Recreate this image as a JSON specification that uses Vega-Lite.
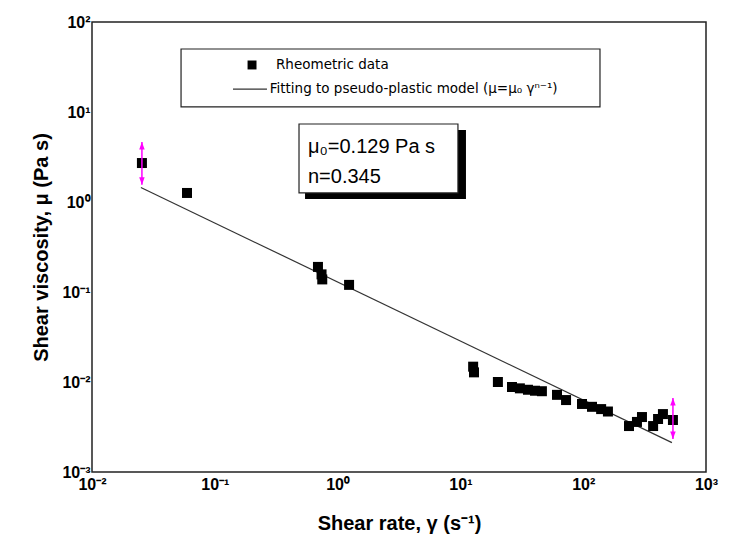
{
  "$schema": "https://vega.github.io/schema/vega-lite/v6.json",
  "width": 614,
  "height": 450,
  "autosize": {"type": "none"},
  "padding": {"left": 92, "top": 22, "right": 29, "bottom": 67},
  "background": "white",
  "config": {
    "view": {"stroke": "#222", "strokeWidth": 1.5},
    "font": "Liberation Sans",
    "axis": {
      "domain": false,
      "ticks": false,
      "grid": false,
      "labelFont": "Liberation Sans",
      "labelFontWeight": "bold",
      "labelFontSize": 16,
      "labelColor": "#000",
      "labelOverlap": false,
      "labelFlush": false,
      "titleFont": "Liberation Sans",
      "titleFontWeight": "bold",
      "titleFontSize": 20,
      "titleColor": "#000"
    }
  },
  "datasets": {
    "points": [
      {"rate": 0.0255, "visc": 2.71},
      {"rate": 0.0594, "visc": 1.26},
      {"rate": 0.692, "visc": 0.19},
      {"rate": 0.74, "visc": 0.157},
      {"rate": 0.75, "visc": 0.138},
      {"rate": 1.24, "visc": 0.12},
      {"rate": 12.7, "visc": 0.0148},
      {"rate": 12.9, "visc": 0.0128},
      {"rate": 20.2, "visc": 0.0100},
      {"rate": 26.3, "visc": 0.0088},
      {"rate": 30.5, "visc": 0.0085},
      {"rate": 35.5, "visc": 0.0082},
      {"rate": 40.5, "visc": 0.0080},
      {"rate": 46.1, "visc": 0.0079},
      {"rate": 61.2, "visc": 0.0072},
      {"rate": 72.5, "visc": 0.0063},
      {"rate": 97.8, "visc": 0.0057},
      {"rate": 118, "visc": 0.0053},
      {"rate": 140, "visc": 0.0050},
      {"rate": 159, "visc": 0.0047},
      {"rate": 236, "visc": 0.00324},
      {"rate": 274, "visc": 0.0036},
      {"rate": 301, "visc": 0.00408},
      {"rate": 371, "visc": 0.00324},
      {"rate": 407, "visc": 0.00388},
      {"rate": 446, "visc": 0.0044},
      {"rate": 538, "visc": 0.00378}
    ],
    "fit": [
      {"rate": 0.025, "visc": 1.45},
      {"rate": 528, "visc": 0.00212}
    ],
    "errors": [
      {"rate": 0.0255, "lo": 1.55, "hi": 4.64},
      {"rate": 538, "lo": 0.00233, "hi": 0.00664}
    ]
  },
  "encoding": {
    "x": {
      "type": "quantitative",
      "scale": {"type": "log", "domain": [0.01, 1000], "nice": false},
      "axis": {
        "title": "Shear rate, γ (s⁻¹)",
        "values": [0.01, 0.1, 1, 10, 100, 1000],
        "labelExpr": "'10' + ['⁻³','⁻²','⁻¹','⁰','¹','²','³'][round(log(datum.value)/LN10)+3]",
        "labelPadding": 4,
        "titlePadding": 21
      }
    },
    "y": {
      "type": "quantitative",
      "scale": {"type": "log", "domain": [0.001, 100], "nice": false},
      "axis": {
        "title": "Shear viscosity, μ (Pa s)",
        "values": [0.001, 0.01, 0.1, 1, 10, 100],
        "labelExpr": "'10' + ['⁻³','⁻²','⁻¹','⁰','¹','²','³'][round(log(datum.value)/LN10)+3]",
        "labelPadding": 2,
        "titlePadding": 10
      }
    }
  },
  "layer": [
    {
      "data": {"values": [{}]},
      "mark": {"type": "rect", "fill": "white", "stroke": "#222", "strokeWidth": 1.2},
      "encoding": {
        "x": {"datum": 0.0531}, "x2": {"datum": 137},
        "y": {"datum": 50.1}, "y2": {"datum": 11.4}
      }
    },
    {
      "data": {"values": [{}]},
      "mark": {"type": "rect", "fill": "#000"},
      "encoding": {
        "x": {"datum": 0.543}, "x2": {"datum": 11.1},
        "y": {"datum": 6.3}, "y2": {"datum": 1.08}
      }
    },
    {
      "data": {"values": [{}]},
      "mark": {"type": "rect", "fill": "white", "stroke": "#222", "strokeWidth": 1.2},
      "encoding": {
        "x": {"datum": 0.485}, "x2": {"datum": 9.55},
        "y": {"datum": 7.36}, "y2": {"datum": 1.26}
      }
    },
    {
      "data": {"values": [{"label": "μ₀=0.129 Pa s", "lx": 0.574, "ly": 4.08}, {"label": "n=0.345", "lx": 0.574, "ly": 1.9}]},
      "mark": {"type": "text", "align": "left", "baseline": "middle", "fontSize": 20, "font": "Liberation Sans", "color": "#000"},
      "encoding": {
        "x": {"field": "lx", "type": "quantitative"},
        "y": {"field": "ly", "type": "quantitative"},
        "text": {"field": "label"}
      }
    },
    {
      "data": {"values": [{"label": "Rheometric data", "lx": 0.315, "ly": 33.3}, {"label": "Fitting to pseudo-plastic model (μ=μ₀ γⁿ⁻¹)", "lx": 0.28, "ly": 18.0}]},
      "mark": {"type": "text", "align": "left", "baseline": "middle", "fontSize": 13.5, "font": "DejaVu Sans", "color": "#000"},
      "encoding": {
        "x": {"field": "lx", "type": "quantitative"},
        "y": {"field": "ly", "type": "quantitative"},
        "text": {"field": "label"}
      }
    },
    {
      "data": {"values": [{}]},
      "mark": {"type": "point", "shape": "square", "filled": true, "color": "#000", "size": 80, "opacity": 1},
      "encoding": {"x": {"datum": 0.201}, "y": {"datum": 33.3}}
    },
    {
      "data": {"values": [{}]},
      "mark": {"type": "rule", "color": "#333", "strokeWidth": 1.2},
      "encoding": {"x": {"datum": 0.1406}, "x2": {"datum": 0.266}, "y": {"datum": 18.0}}
    },
    {
      "data": {"name": "fit"},
      "mark": {"type": "line", "color": "#333", "strokeWidth": 1.2},
      "encoding": {
        "x": {"field": "rate", "type": "quantitative"},
        "y": {"field": "visc", "type": "quantitative"}
      }
    },
    {
      "data": {"name": "points"},
      "mark": {"type": "point", "shape": "square", "filled": true, "color": "#000", "size": 100, "opacity": 1},
      "encoding": {
        "x": {"field": "rate", "type": "quantitative"},
        "y": {"field": "visc", "type": "quantitative"}
      }
    },
    {
      "data": {"name": "errors"},
      "mark": {"type": "rule", "color": "#ff00ff", "strokeWidth": 1.5},
      "encoding": {
        "x": {"field": "rate", "type": "quantitative"},
        "y": {"field": "lo", "type": "quantitative"},
        "y2": {"field": "hi"}
      }
    },
    {
      "data": {"name": "errors"},
      "mark": {"type": "point", "shape": "M0,-1L0.55,0.5L-0.55,0.5Z", "filled": true, "color": "#ff00ff", "size": 100, "opacity": 1, "yOffset": 5},
      "encoding": {
        "x": {"field": "rate", "type": "quantitative"},
        "y": {"field": "hi", "type": "quantitative"}
      }
    },
    {
      "data": {"name": "errors"},
      "mark": {"type": "point", "shape": "M0,1L0.55,-0.5L-0.55,-0.5Z", "filled": true, "color": "#ff00ff", "size": 100, "opacity": 1, "yOffset": -5},
      "encoding": {
        "x": {"field": "rate", "type": "quantitative"},
        "y": {"field": "lo", "type": "quantitative"}
      }
    }
  ]
}
